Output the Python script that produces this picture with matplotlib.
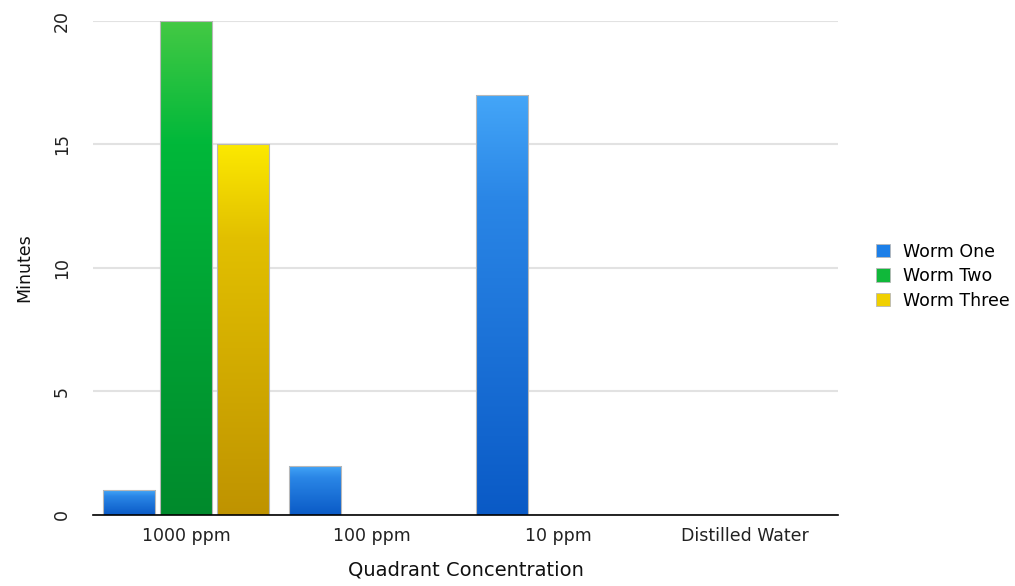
import numpy as np
import matplotlib
matplotlib.use("Agg")
import matplotlib.pyplot as plt
from matplotlib.colors import LinearSegmentedColormap
from matplotlib.patches import Patch

categories = ['1000 ppm', '100 ppm', '10 ppm', 'Distilled Water']
worm_one = [1, 2, 17, 0]
worm_two = [20, 0, 0, 0]
worm_three = [15, 0, 0, 0]
series_names = ['Worm One', 'Worm Two', 'Worm Three']

# gradient stops, bottom -> top
grads = [['#0a5ac6', '#2a86e6', '#44a6f8'],
         ['#008a2c', '#00b83a', '#44c944'],
         ['#bf9300', '#e2c000', '#fce900']]

plt.rcParams['font.family'] = ['DejaVu Sans']

fig = plt.figure(figsize=(10.15, 5.86), dpi=100)
ax = fig.add_axes([0.0916, 0.1212, 0.7340, 0.8438])

x = np.arange(len(categories))
width = 0.28
offsets = [-0.306, 0, 0.306]
grad = np.linspace(0, 1, 256).reshape(-1, 1)

for vals, off, stops in zip([worm_one, worm_two, worm_three], offsets, grads):
    cmap = LinearSegmentedColormap.from_list('g', list(zip([0, 0.75, 1], stops)))
    bars = ax.bar(x + off, vals, width, color='none', edgecolor='#b8b8b8', linewidth=0.8, zorder=3)
    for b in bars:
        h = b.get_height()
        if h <= 0:
            continue
        x0 = b.get_x()
        im = ax.imshow(grad, cmap=cmap, aspect='auto', origin='lower',
                       extent=[x0, x0 + b.get_width(), 0, h], zorder=2)
        im.set_clip_path(b)

ax.set_xlim(-0.5, 3.5)
ax.set_ylim(0, 20)
ax.set_yticks([0, 5, 10, 15, 20])
ax.set_xticks(x)
ax.set_xticklabels(categories, fontsize=12.5, color='#222222')
for t in ax.get_yticklabels():
    t.set_rotation(90)
    t.set_va('center')
    t.set_fontsize(12.5)
    t.set_color('#222222')
ax.tick_params(length=0)
ax.tick_params(axis='x', pad=9)
ax.tick_params(axis='y', pad=16)
ax.yaxis.grid(True, color='#e2e2e2', linewidth=1.5, zorder=0)
ax.set_axisbelow(True)
for s in ['top', 'right', 'left']:
    ax.spines[s].set_visible(False)
ax.spines['bottom'].set_color('black')
ax.spines['bottom'].set_linewidth(1.2)
ax.spines['bottom'].set_zorder(4)

ax.set_xlabel('Quadrant Concentration', fontsize=14, labelpad=11, color='#111111')
ax.set_ylabel('Minutes', fontsize=12.5, labelpad=14, color='#111111')

handles = [Patch(facecolor=c, edgecolor='#b8b8b8', linewidth=0.6) for c in ['#1c7fe8', '#10b83a', '#f0d000']]
ax.legend(handles, series_names, loc='center left', bbox_to_anchor=(1.0296, 0.483),
          frameon=False, fontsize=12.5, handlelength=0.8, handleheight=0.8,
          handletextpad=0.75, labelspacing=0.38)

fig.savefig('out.png', dpi=100)
